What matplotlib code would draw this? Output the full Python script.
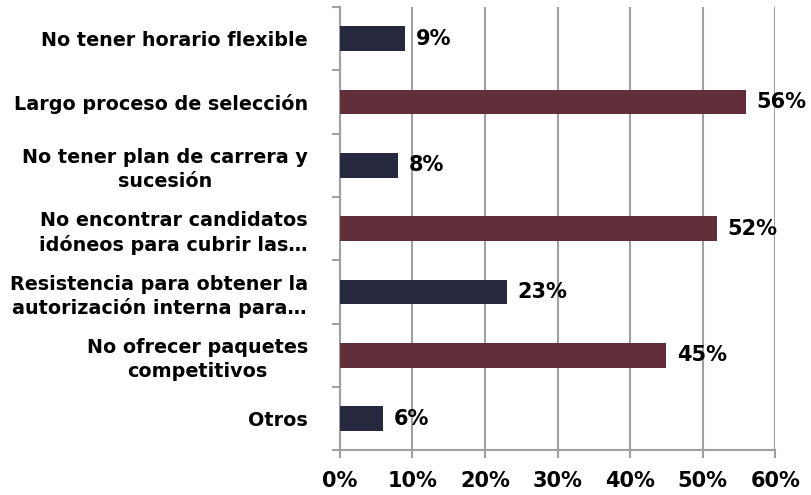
import matplotlib
matplotlib.use('Agg')
import matplotlib.pyplot as plt
import numpy as np

# Datos del gráfico (de arriba hacia abajo)
categorias = [
    'No tener horario flexible',
    'Largo proceso de selección',
    'No tener plan de carrera y\nsucesión',
    'No encontrar candidatos\nidóneos para cubrir las…',
    'Resistencia para obtener la\nautorización interna para…',
    'No ofrecer paquetes\ncompetitivos',
    'Otros',
]
porcentajes = [9, 56, 8, 52, 23, 45, 6]
colores = ['#25283e', '#622e3a', '#25283e', '#622e3a', '#25283e', '#622e3a', '#25283e']

plt.rcParams['font.family'] = ['DejaVu Sans']
plt.rcParams['font.weight'] = 'bold'

fig = plt.figure(figsize=(8.11, 4.95), dpi=100)
ax = fig.add_axes([0.419, 0.09, 0.537, 0.896])

y = np.arange(len(categorias))
ax.barh(y, porcentajes, height=0.39, color=colores, zorder=3)
ax.set_ylim(len(categorias) - 0.5, -0.5)
ax.set_xlim(0, 60)

# Etiquetas de valor
for i, v in enumerate(porcentajes):
    ax.annotate(f'{v}%', xy=(v, i), xytext=(7.5, 0), textcoords='offset points',
                ha='left', va='center', fontsize=15, fontweight='bold', color='black')

# Cuadrícula y ejes
ax.set_xticks(np.arange(0, 61, 10))
ax.set_xticklabels([f'{t}%' for t in range(0, 61, 10)], fontsize=15, fontweight='bold')
ax.grid(axis='x', color='#a0a0a0', linewidth=1.5, zorder=0)
ax.set_axisbelow(True)

ax.set_yticks(y)
ax.set_yticklabels(categorias, fontsize=13.8, fontweight='bold', multialignment='center',
                   linespacing=1.3)
ax.set_yticks(np.arange(-0.5, len(categorias), 1), minor=True)
ax.tick_params(axis='y', which='major', length=0, pad=23)
ax.tick_params(axis='y', which='minor', length=6, width=1.5, color='#a0a0a0', direction='out')
ax.tick_params(axis='x', length=6, width=1.5, color='#a0a0a0', pad=9)

for s in ['top', 'right']:
    ax.spines[s].set_visible(False)
for s in ['left', 'bottom']:
    ax.spines[s].set_color('#a0a0a0')
    ax.spines[s].set_linewidth(1.5)

fig.savefig('out.png', dpi=100)
